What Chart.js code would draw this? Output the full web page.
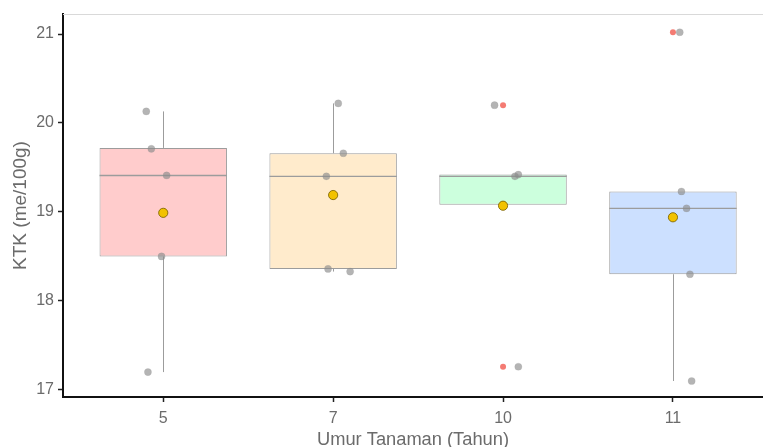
<!DOCTYPE html>
<html>
<head>
<meta charset="utf-8">
<script src="https://cdn.jsdelivr.net/npm/chart.js@4/dist/chart.umd.min.js"></script>
<style>
  html, body { margin: 0; padding: 0; background: #ffffff; overflow: hidden; }
  #chart { display: block; }
</style>
</head>
<body>
<canvas id="chart" width="763" height="447"></canvas>
<script>
// Plant age groups (years)
const categories = ['5', '7', '10', '11'];

// Box summaries per group (KTK, me/100g)
const q1 = [18.50, 18.36, 19.08, 18.30];
const median = [19.41, 19.40, 19.40, 19.04];
const q3 = [19.72, 19.66, 19.42, 19.23];
const whiskerLow = [17.20, 18.33, 19.08, 17.10];
const whiskerHigh = [20.13, 20.22, 19.42, 19.23];
const means = [18.99, 19.19, 19.07, 18.94];

// Individual observations per group and their horizontal jitter
const obs5 = [20.13, 19.71, 19.41, 18.50, 17.20];
const obs7 = [20.22, 19.66, 19.40, 18.36, 18.33];
const obs10 = [20.20, 19.40, 19.42, 17.26, 19.08];
const obs11 = [21.02, 19.23, 19.04, 18.30, 17.10];
const jitter5 = [-0.10, -0.07, 0.02, -0.01, -0.09];
const jitter7 = [0.03, 0.06, -0.04, -0.03, 0.10];
const jitter10 = [-0.05, 0.07, 0.09, 0.09, 0.00];
const jitter11 = [0.04, 0.05, 0.08, 0.10, 0.11];

// Outliers (beyond 1.5 IQR)
const outlierGroup = [3, 3, 4];
const outlierValue = [20.20, 17.26, 21.02];

const yTicks = [17, 18, 19, 20, 21];

const boxFill = ['#FFCCCC', '#FFEBCC', '#CCFFDD', '#CCE0FF'];
const textGray = '#6b6b6b';
const lineGray = '#9c9c9c';
const FONT = "'Liberation Sans', Arial, sans-serif";

const obsGroups = [obs5, obs7, obs10, obs11];
const jitterGroups = [jitter5, jitter7, jitter10, jitter11];
const jitterPoints = [];
obsGroups.forEach((vals, g) => {
  vals.forEach((v, k) => jitterPoints.push({ x: g + 1 + jitterGroups[g][k], y: v }));
});

// Whiskers behind the boxes, median lines on top of them, thin frame line at the top
const boxPlotParts = {
  id: 'boxPlotParts',
  beforeDatasetsDraw(chart) {
    const { ctx, scales: { x, y }, chartArea } = chart;
    ctx.save();
    ctx.strokeStyle = '#d9d9d9';
    ctx.lineWidth = 1;
    ctx.beginPath();
    ctx.moveTo(chartArea.left, chartArea.top + 0.5);
    ctx.lineTo(chartArea.right, chartArea.top + 0.5);
    ctx.stroke();

    ctx.strokeStyle = lineGray;
    ctx.lineWidth = 1;
    categories.forEach((c, i) => {
      const px = Math.round(x.getPixelForValue(i + 1)) + 0.5;
      ctx.beginPath();
      ctx.moveTo(px, y.getPixelForValue(whiskerHigh[i]));
      ctx.lineTo(px, y.getPixelForValue(q3[i]));
      ctx.moveTo(px, y.getPixelForValue(q1[i]));
      ctx.lineTo(px, y.getPixelForValue(whiskerLow[i]));
      ctx.stroke();
    });
    ctx.restore();
  },
  afterDatasetDraw(chart, args) {
    if (args.index !== 0) return;
    const { ctx, scales: { y } } = chart;
    const bars = chart.getDatasetMeta(0).data;
    ctx.save();
    ctx.strokeStyle = lineGray;
    ctx.lineWidth = 1.4;
    bars.forEach((bar, i) => {
      const py = y.getPixelForValue(median[i]);
      ctx.beginPath();
      ctx.moveTo(bar.x - bar.width / 2, py);
      ctx.lineTo(bar.x + bar.width / 2, py);
      ctx.stroke();
    });
    ctx.restore();
  }
};

new Chart(document.getElementById('chart'), {
  type: 'bar',
  data: {
    datasets: [
      {
        label: 'box',
        data: categories.map((c, i) => ({ x: i + 1, y: [q1[i], q3[i]] })),
        backgroundColor: boxFill,
        borderColor: lineGray,
        borderWidth: 1,
        borderSkipped: false,
        barPercentage: 0.75,
        categoryPercentage: 1,
        grouped: false,
        order: 4
      },
      {
        type: 'scatter',
        label: 'outlier',
        data: outlierGroup.map((g, k) => ({ x: g, y: outlierValue[k] })),
        backgroundColor: 'rgba(242, 100, 90, 0.85)',
        borderWidth: 0,
        pointRadius: 3,
        order: 3
      },
      {
        type: 'scatter',
        label: 'observasi',
        data: jitterPoints,
        backgroundColor: 'rgba(140, 140, 140, 0.65)',
        borderColor: 'rgba(140, 140, 140, 0.3)',
        borderWidth: 0.5,
        pointRadius: 3.6,
        order: 2
      },
      {
        type: 'scatter',
        label: 'rata-rata',
        data: means.map((m, i) => ({ x: i + 1, y: m })),
        backgroundColor: '#F2C200',
        borderColor: 'rgba(125, 100, 0, 0.85)',
        borderWidth: 1,
        pointRadius: 4.6,
        order: 1
      }
    ]
  },
  options: {
    responsive: false,
    devicePixelRatio: 1,
    animation: false,
    events: [],
    layout: { autoPadding: false, padding: { top: 14, right: 0, left: 0, bottom: 0 } },
    plugins: { legend: { display: false }, tooltip: { enabled: false } },
    scales: {
      x: {
        type: 'linear',
        offset: false,
        min: 0.41,
        max: 4.53,
        afterBuildTicks: (scale) => { scale.ticks = categories.map((c, i) => ({ value: i + 1 })); },
        afterFit: (scale) => { scale.height = 50; scale.paddingLeft = 0; scale.paddingRight = 0; },
        ticks: {
          callback: (v) => categories[v - 1],
          color: textGray,
          font: { family: FONT, size: 16 },
          padding: 7,
          maxRotation: 0,
          autoSkip: false
        },
        grid: { offset: false, drawOnChartArea: false, drawTicks: true, tickLength: 5, tickColor: '#222', tickWidth: 1.5 },
        border: { display: true, color: '#111', width: 2 },
        title: {
          display: true,
          text: 'Umur Tanaman (Tahun)',
          color: textGray,
          font: { family: FONT, size: 18.3 },
          padding: { top: 0, bottom: -4 }
        }
      },
      y: {
        type: 'linear',
        min: 16.92,
        max: 21.225,
        afterBuildTicks: (scale) => { scale.ticks = yTicks.map(v => ({ value: v })); },
        afterFit: (scale) => { scale.width = 63; scale.paddingTop = 0; scale.paddingBottom = 0; },
        ticks: {
          color: textGray,
          font: { family: FONT, size: 16 },
          padding: 4
        },
        grid: { drawOnChartArea: false, drawTicks: true, tickLength: 5, tickColor: '#222', tickWidth: 1.5 },
        border: { display: true, color: '#111', width: 2 },
        title: {
          display: true,
          text: 'KTK (me/100g)',
          color: textGray,
          font: { family: FONT, size: 19 },
          padding: { top: 9, bottom: 0 }
        }
      }
    }
  },
  plugins: [boxPlotParts]
});
</script>
</body>
</html>
